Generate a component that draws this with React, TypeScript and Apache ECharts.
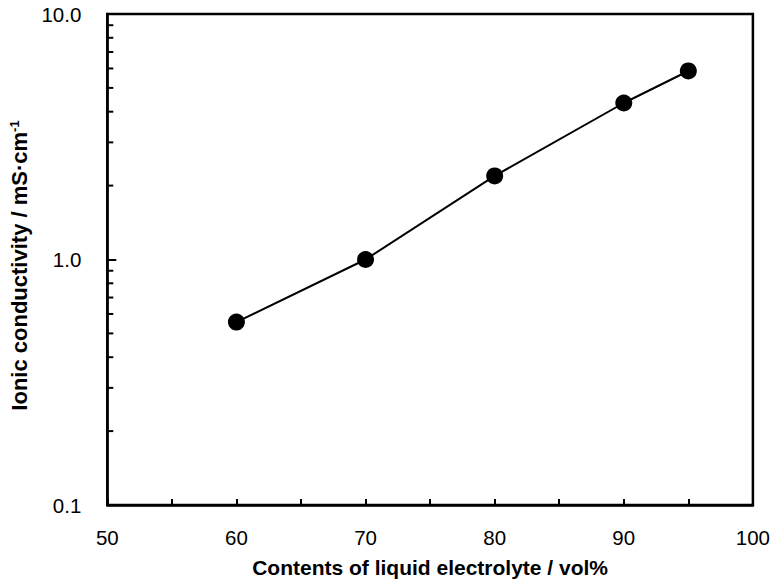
import React, { useEffect, useRef } from "react";
import * as echarts from "echarts";

const contents = [60, 70, 80, 90, 95];
const conductivity = [0.556, 1.0, 2.19, 4.34, 5.86];
const minorTickValues = [0.2, 0.3, 0.4, 0.5, 0.6, 0.7, 0.8, 0.9, 2, 3, 4, 5, 6, 7, 8, 9];
const xLabel = "Contents of liquid electrolyte / vol%";
const yLabel = "Ionic conductivity / mS·cm";

export default function App() {
  const ref = useRef<HTMLDivElement>(null);
  useEffect(() => {
    const chart = echarts.init(ref.current!, null, { renderer: "svg" });
    const font = "Liberation Sans, Arial, Helvetica, sans-serif";
    chart.setOption({
      animation: false,
      backgroundColor: "#fff",
      grid: {
        left: 105,
        top: 14,
        width: 649,
        height: 491,
        show: true,
        borderColor: "#000",
        borderWidth: 2.5,
      },
      xAxis: {
        type: "value",
        min: 50,
        max: 100,
        interval: 5,
        axisLine: { lineStyle: { color: "#000", width: 2.5 } },
        axisTick: { inside: true, length: 6, lineStyle: { color: "#000", width: 2 } },
        splitLine: { show: false },
        axisLabel: {
          color: "#000",
          fontSize: 20.5,
          fontFamily: font,
          margin: 22,
          formatter: (v: number) => (v % 10 === 0 ? String(v) : ""),
        },
        name: xLabel,
        nameLocation: "middle",
        nameGap: 52,
        nameTextStyle: { color: "#000", fontSize: 21, fontWeight: "bold", fontFamily: font },
      },
      yAxis: {
        type: "log",
        min: 0.1,
        max: 10,
        logBase: 10,
        axisLine: { lineStyle: { color: "#000", width: 2.5 } },
        axisTick: { inside: true, length: 9, lineStyle: { color: "#000", width: 2 } },
        splitLine: { show: false },
        axisLabel: {
          color: "#000",
          fontSize: 20.5,
          fontFamily: font,
          margin: 26,
          formatter: (v: number) => v.toFixed(1),
        },
        name: `{a|${yLabel}}{s|-1}`,
        nameLocation: "middle",
        nameGap: 70,
        nameTextStyle: {
          color: "#000",
          fontFamily: font,
          padding: [0, 12, 0, 0],
          rich: {
            a: { fontSize: 22, fontWeight: "bold", fontFamily: font, color: "#000" },
            s: { fontSize: 13, fontWeight: "bold", fontFamily: font, color: "#000", verticalAlign: "top", padding: [0, 0, 10, 0] },
          },
        },
      },
      series: [
        {
          type: "line",
          data: contents.map((c, i) => [c, conductivity[i]]),
          symbol: "circle",
          symbolSize: 17,
          itemStyle: { color: "#000" },
          lineStyle: { color: "#000", width: 2 },
          z: 5,
        },
        {
          type: "custom",
          silent: true,
          clip: false,
          data: minorTickValues.map((v) => [50, v]),
          renderItem: (params: any, api: any) => {
            const p = api.coord([50, api.value(1)]);
            return {
              type: "line",
              shape: { x1: p[0], y1: p[1], x2: p[0] + 6, y2: p[1] },
              style: { stroke: "#000", lineWidth: 2 },
            };
          },
        },
      ],
    });
    return () => chart.dispose();
  }, []);
  return (
    <div
      ref={ref}
      style={{ position: "absolute", left: 0, top: 0, width: 773, height: 583 }}
    />
  );
}
